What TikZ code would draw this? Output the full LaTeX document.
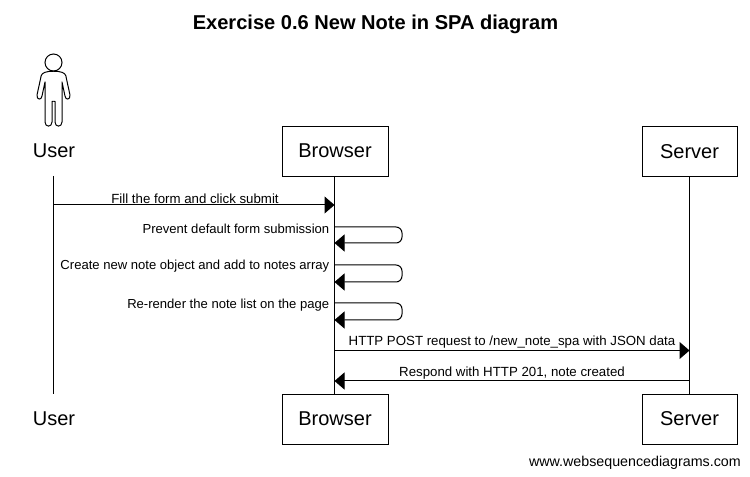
\documentclass[tikz,border=0pt]{standalone}
\usepackage{fontspec}
\setmainfont{Liberation Sans}
\usetikzlibrary{arrows.meta}
\tikzset{
	lane/.style={draw=black,line width=0.75pt,minimum height=37.5pt,inner sep=0pt,font=\fontsize{15}{18}\selectfont},
	actorlabel/.style={inner sep=0pt,font=\fontsize{15}{18}\selectfont},
	msglabel/.style={inner sep=0pt,font=\fontsize{9.95}{12}\selectfont},
	selflabel/.style={inner sep=0pt,anchor=east,font=\fontsize{9.8}{12}\selectfont},
	msg/.style={line width=0.75pt,-{Triangle[length=7.5pt,width=12.75pt]}},
	selfmsg/.style={msg,rounded corners=4.5pt},
	lifeline/.style={line width=0.75pt}
}
\begin{document}
\begin{tikzpicture}[x=0.75pt,y=-0.75pt]
	\useasboundingbox (0,0) rectangle (750,477);
	\node[inner sep=0pt,font=\bfseries\fontsize{15.05}{18}\selectfont] (title) at (375.5,24) {Exercise 0.6 New Note in SPA diagram};

	\node[actorlabel] (usertop) at (54,151) {User};
	\node[actorlabel] (userbot) at (54,419) {User};
	\foreach \lanename/\yy in {top/151.2,bot/419}{
		\node[lane,minimum width=79.5pt] (browser\lanename) at (335,\yy) {Browser};
		\node[lane,minimum width=71.25pt] (server\lanename) at (689.5,\yy) {Server};}

	\coordinate (userstart) at (53.5,176);
	\coordinate (userend) at (53.5,394);
	\coordinate (browserstart) at (334.5,176);
	\coordinate (browserend) at (334.5,394);
	\draw[lifeline] (userstart) -- (userend);
	\draw[lifeline] (browserstart) -- (browserend);
	\draw[lifeline] (servertop) -- (serverbot);

	\draw[line width=0.75pt] (53.5,62.5) circle (8.5);
	\foreach \s in {-1,1}{
		\begin{scope}[shift={(53.5,0)},xscale=\s]
			\draw[line width=0.75pt,line join=round] (0,71.5) -- (-5,71.5) .. controls (-11,72.5) and (-12.5,74) .. (-13,79) -- (-16.5,95) .. controls (-17,100) and (-12,100.5) .. (-11.5,96) -- (-8.5,82) -- (-8.5,122) .. controls (-8.5,127.5) and (-1.5,127.5) .. (-1.5,122) -- (-1.5,101.5) -- (0,101.5);
		\end{scope}}

	\foreach \pname/\yy in {fill/205,post/350.5,resp/381}{
		\coordinate (user\pname) at (53.5,\yy);
		\coordinate (browser\pname) at (334.5,\yy);
		\coordinate (server\pname) at (689.5,\yy);}
	\foreach \pname/\ya/\yb in {prevent/227/243,create/265/282,render/303/320}{
		\coordinate (\pname a) at (334.5,\ya);
		\coordinate (\pname b) at (334.5,\yb);
		\coordinate (\pname c) at (402,\ya);
		\coordinate (\pname d) at (402,\yb);
		\draw[selfmsg] (\pname a) -- (\pname c) -- (\pname d) -- (\pname b);}

	\draw[msg] (userfill) -- (browserfill);
	\draw[msg] (browserpost) -- (serverpost);
	\draw[msg] (serverresp) -- (browserresp);

	\node[msglabel] (fillmsg) at (195,198.5) {Fill the form and click submit};
	\node[selflabel] (preventmsg) at (329.5,228.5) {Prevent default form submission};
	\node[selflabel] (createmsg) at (329.5,266.5) {Create new note object and add to notes array};
	\node[selflabel] (rendermsg) at (329.5,305.5) {Re-render the note list on the page};
	\node[msglabel] (postmsg) at (512,342.5) {HTTP POST request to /new\_note\_spa with JSON data};
	\node[msglabel] (respmsg) at (512,373) {Respond with HTTP 201, note created};

	\node[inner sep=0pt,anchor=east,font=\fontsize{10.7}{12}\selectfont] (footer) at (741,463) {www.websequencediagrams.com};
\end{tikzpicture}
\end{document}
